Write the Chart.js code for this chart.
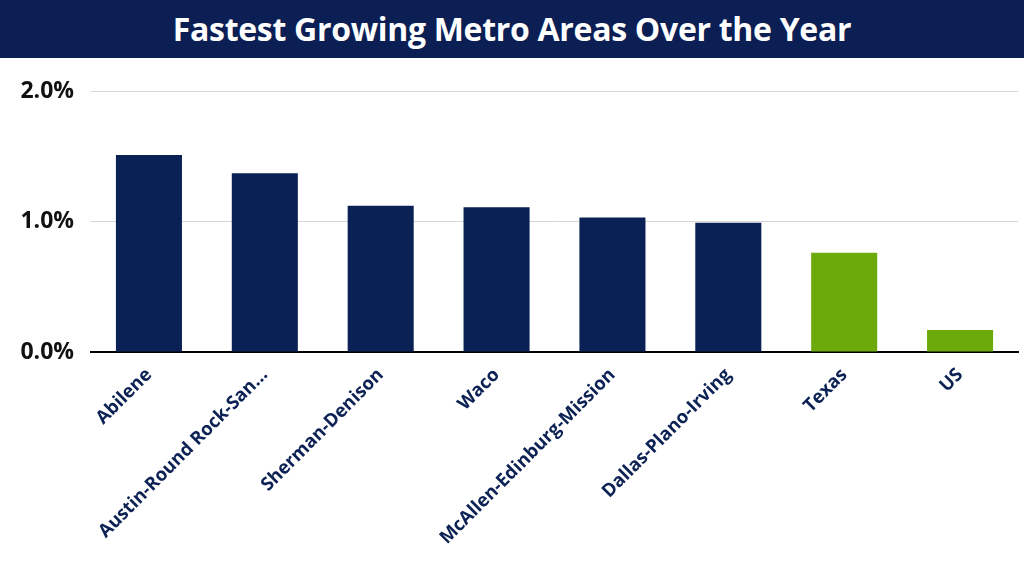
<!DOCTYPE html>
<html>
<head>
<meta charset="utf-8">
<script src="https://cdn.jsdelivr.net/npm/chart.js@4.4.1/dist/chart.umd.min.js"></script>
<style>
  html, body { margin:0; padding:0; background:#fff; }
  body { width:1024px; height:576px; overflow:hidden; position:relative; }
  #title { position:absolute; left:0; top:0; width:1024px; height:58px; background:#0b1f55;
    color:#fff; font-family:"Open Sans", sans-serif; font-weight:700; font-size:32px;
    line-height:58px; text-align:center; letter-spacing:-0.3px; }
  #wrap { position:absolute; left:0; top:58px; width:1024px; height:518px; }
</style>
</head>
<body>
<div id="title">Fastest Growing Metro Areas Over the Year</div>
<div id="wrap"><canvas id="c"></canvas></div>
<script>
const categories = ["Abilene", "Austin-Round Rock-San...", "Sherman-Denison", "Waco", "McAllen-Edinburg-Mission", "Dallas-Plano-Irving", "Texas", "US"];
const growth = [1.51, 1.37, 1.12, 1.11, 1.03, 0.99, 0.76, 0.17];
const barColors = ["#0a2155", "#0a2155", "#0a2155", "#0a2155", "#0a2155", "#0a2155", "#6caa0c", "#6caa0c"];
const yTicks = [0, 1, 2];

new Chart(document.getElementById('c'), {
  type: 'bar',
  data: {
    labels: categories,
    datasets: [{
      data: growth,
      backgroundColor: barColors,
      borderWidth: 0,
      barPercentage: 0.57,
      categoryPercentage: 1.0
    }]
  },
  options: {
    responsive: true,
    maintainAspectRatio: false,
    animation: false,
    layout: { padding: { left: 18, right: 6, top: 33, bottom: 23 } },
    plugins: { legend: { display: false }, tooltip: { enabled: false }, title: { display: false } },
    scales: {
      x: {
        grid: { display: false },
        border: { display: true, color: '#000', width: 2 },
        ticks: {
          color: '#0c2154',
          font: { family: 'Open Sans', weight: 'bold', size: 18.5 },
          minRotation: 45, maxRotation: 45, autoSkip: false, padding: 4
        }
      },
      y: {
        min: 0, max: 2,
        afterBuildTicks: (s) => { s.ticks = yTicks.map(v => ({ value: v })); },
        afterFit: (s) => { s.width = 73; },
        grid: { color: '#d6d6d6', lineWidth: 1, drawTicks: false },
        border: { display: false },
        ticks: {
          color: '#111',
          font: { family: 'Open Sans', weight: 'bold', size: 23 },
          padding: 17,
          callback: (v) => v.toFixed(1) + '%'
        }
      }
    }
  }
});
</script>
</body>
</html>
